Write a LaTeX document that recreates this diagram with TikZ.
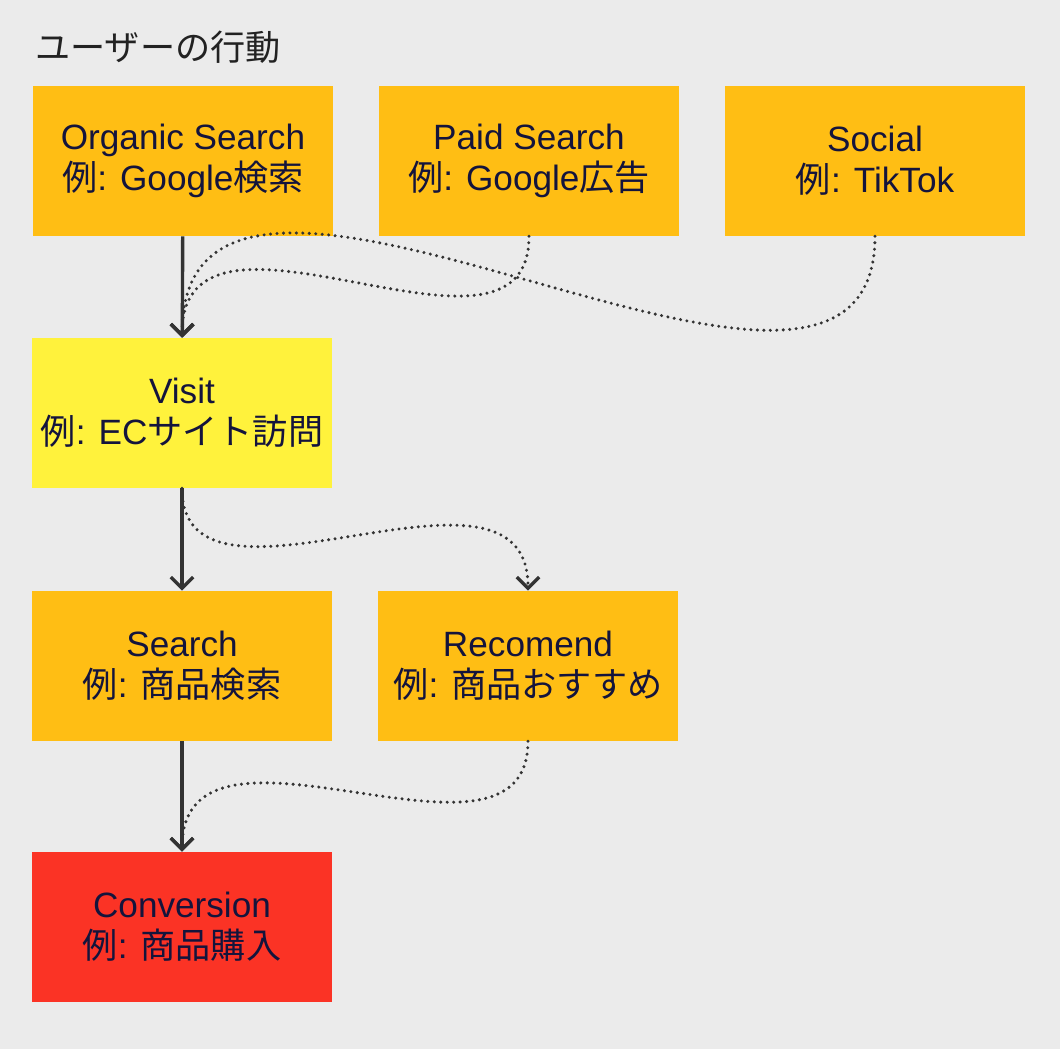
\documentclass[tikz,border=0pt]{standalone}
\usepackage{fontspec}
\setmainfont{Liberation Sans}
\newfontfamily\jp{Noto Sans CJK JP}
\usepackage{tikz}
\usetikzlibrary{arrows.meta}

\definecolor{bgcol}{HTML}{EBEBEB}
\definecolor{orangebox}{HTML}{FFBE14}
\definecolor{yellowbox}{HTML}{FFF23C}
\definecolor{redbox}{HTML}{FB3325}
\definecolor{ink}{HTML}{14143C}
\definecolor{linecol}{HTML}{333333}
\definecolor{titlecol}{HTML}{222222}

\begin{document}
\begin{tikzpicture}[
    x=0.025cm, y=-0.025cm,
    box/.style={rectangle, minimum width=7.5cm, minimum height=3.75cm, inner sep=0pt, align=center, text=ink, font=\fontsize{25}{29}\selectfont},
    arrow/.style={-{Straight Barb[length=8pt,width=16pt]}, line width=2.4pt, draw=linecol},
    dots/.style={arrow, line cap=round, dash pattern=on 0pt off 4.6pt}
]

% Background and frame
\fill[bgcol] (0,0) rectangle (1060,1049);
\useasboundingbox (0,0) rectangle (1060,1049);

% Title
\node[anchor=west, inner sep=0pt, text=titlecol, font=\fontsize{25}{29}\selectfont] (title) at (35,47) {\jp ユーザーの行動};

% Traffic sources
\node[box, fill=orangebox] (organic) at (183,161) {Organic Search\\{\jp 例}: Google{\jp 検索}};
\node[box, fill=orangebox] (paid) at (529,161) {Paid Search\\{\jp 例}: Google{\jp 広告}};
\node[box, fill=orangebox] (social) at (875,161) {Social\\{\jp 例}: TikTok};

% Site visit
\node[box, fill=yellowbox] (visit) at (182,413) {Visit\\{\jp 例}: EC{\jp サイト訪問}};

% On-site actions
\node[box, fill=orangebox] (search) at (182,666) {Search\\{\jp 例}: {\jp 商品検索}};
\node[box, fill=orangebox] (recomend) at (528,666) {Recomend\\{\jp 例}: {\jp 商品おすすめ}};

% Goal
\node[box, fill=redbox] (conversion) at (182,927) {Conversion\\{\jp 例}: {\jp 商品購入}};

% Arrows
\draw[arrow] (organic) -- (visit);
\draw[dots] (paid.south) .. controls +(0,159) and +(0,-170) .. (visit.north);
\draw[dots] (social.south) .. controls +(0,286) and +(0,-302) .. (visit.north);
\draw[arrow] (visit) -- (search);
\draw[dots] (visit.south) .. controls +(0,151) and +(0,-160) .. (recomend.north);
\draw[arrow] (search) -- (conversion);
\draw[dots] (recomend.south) .. controls +(0,155) and +(0,-165) .. (conversion.north);

\end{tikzpicture}
\end{document}
